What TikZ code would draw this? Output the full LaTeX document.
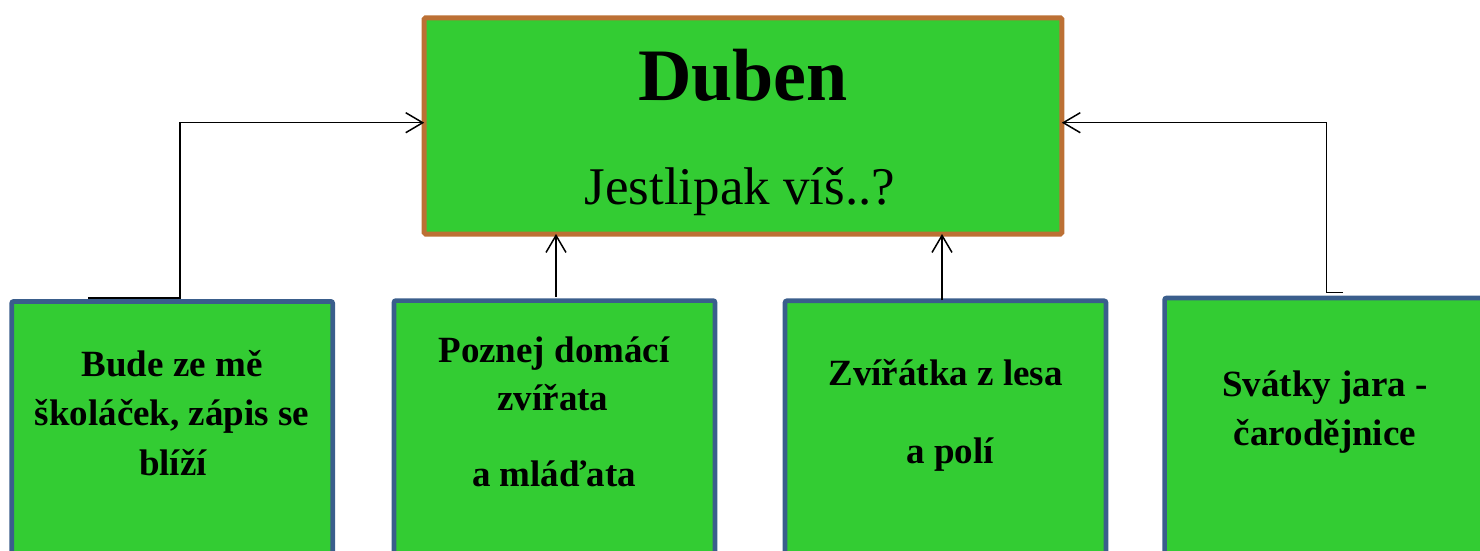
\documentclass[tikz,border=0pt]{standalone}
\usepackage{fontspec}
\setmainfont{Liberation Serif}
\usetikzlibrary{arrows.meta}
\definecolor{boxgreen}{RGB}{51,204,51}
\definecolor{topbrown}{RGB}{188,112,52}
\definecolor{boxblue}{RGB}{58,94,140}
\begin{document}
\begin{tikzpicture}[x=1pt,y=-1pt,
  topbox/.style={draw=topbrown,fill=boxgreen,line width=5pt,rounded corners=1.5pt,
    inner sep=0pt,outer sep=0pt,anchor=north west},
  subbox/.style={draw=boxblue,fill=boxgreen,line width=4.7pt,rounded corners=2pt,
    inner sep=0pt,outer sep=0pt,anchor=north west,minimum width=321pt,minimum height=280pt},
  lbl/.style={anchor=base,inner sep=0pt,font=\fontsize{37}{37}\selectfont\bfseries},
  conn/.style={draw=black,line width=1.5pt},
  arr/.style={conn,-{Straight Barb[length=17pt,width=20pt,line width=1.5pt]}}]
\useasboundingbox (0,0) rectangle (1480,551);
\clip (0,0) rectangle (1480,551);
% top box
\node[topbox,minimum width=637.6pt,minimum height=216.2pt] (top) at (424.2,17.8) {};
\node[anchor=base,inner sep=0pt,font=\fontsize{74}{74}\selectfont\bfseries] (title) at (743,100) {Duben};
\node[anchor=base,inner sep=0pt,font=\fontsize{53}{53}\selectfont] (sub) at (740,204) {Jestlipak víš..?};
% lower boxes
\node[subbox] (b1) at (11.7,301.4) {};
\node[subbox] (b2) at (394,300.6) {};
\node[subbox] (b3) at (785,300.8) {};
\node[subbox] (b4) at (1164.6,298) {};
% texts
\node[lbl] (b1a) at (172,376.7) {Bude ze mě};
\node[lbl] (b1b) at (172,425) {školáček, zápis se};
\node[lbl] (b1c) at (173,475.7) {blíží};
\node[lbl] (b2a) at (554,362.7) {Poznej domácí};
\node[lbl] (b2b) at (553,410.7) {zvířata};
\node[lbl] (b2c) at (554,486.7) {a mláďata};
\node[lbl] (b3a) at (945.5,385) {Zvířátka z lesa};
\node[lbl] (b3b) at (950,463.3) {a polí};
\node[lbl] (b4a) at (1325,396.7) {Svátky jara -};
\node[lbl] (b4b) at (1325,445) {čarodějnice};
% connectors
\coordinate (s1) at (88,298);
\coordinate (s4) at (1343,292.3);
\coordinate (a2) at (556,296.7);
\coordinate (a3) at (942,300);
\draw[arr] (s1) -- ++(92,0) |- ([yshift=3.2pt]top.west);
\draw[arr] (s4) -- ++(-16.3,0) |- ([yshift=3.2pt]top.east);
\draw[arr] (a2) -- (a2 |- top.south);
\draw[arr] (a3) -- (a3 |- top.south);
\end{tikzpicture}
\end{document}
